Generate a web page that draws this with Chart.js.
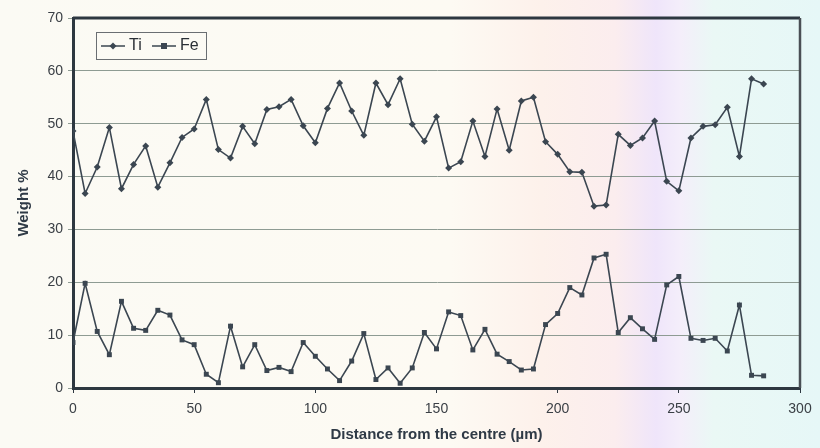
<!DOCTYPE html>
<html>
<head>
<meta charset="utf-8">
<script src="https://cdn.jsdelivr.net/npm/chart.js@4.4.1/dist/chart.umd.min.js"></script>
<style>
  html, body { margin: 0; padding: 0; }
  body {
    width: 820px; height: 448px; overflow: hidden;
    background: linear-gradient(to right, #fbfaf4 0%, #fdfaf3 55%, #fdf1eb 66%, #fbedee 75%, #efe5fa 80%, #f4eefa 83%, #eaf8f5 87%, #e6f7f7 100%);
  }
  #wrap { position: relative; width: 820px; height: 448px; }
</style>
</head>
<body>
<div id="wrap"><canvas id="chart" width="820" height="448"></canvas></div>
<script>
const distances = [0, 5, 10, 15, 20, 25, 30, 35, 40, 45, 50, 55, 60, 65, 70, 75, 80, 85, 90, 95,
  100, 105, 110, 115, 120, 125, 130, 135, 140, 145, 150, 155, 160, 165, 170, 175, 180, 185, 190, 195,
  200, 205, 210, 215, 220, 225, 230, 235, 240, 245, 250, 255, 260, 265, 270, 275, 280, 285];

const tiValues = [48.6, 36.8, 41.8, 49.3, 37.7, 42.3, 45.8, 38.0, 42.6, 47.4,
  49.0, 54.6, 45.1, 43.5, 49.5, 46.2, 52.7, 53.2, 54.6, 49.6,
  46.4, 52.9, 57.7, 52.4, 47.8, 57.7, 53.6, 58.5, 49.9, 46.7,
  51.3, 41.6, 42.8, 50.5, 43.8, 52.8, 45.0, 54.3, 55.0, 46.6,
  44.2, 40.9, 40.8, 34.4, 34.6, 48.0, 45.9, 47.3, 50.5, 39.1,
  37.3, 47.3, 49.5, 49.8, 53.1, 43.8, 58.5, 57.5];

const feValues = [8.6, 19.8, 10.7, 6.3, 16.4, 11.3, 10.9, 14.7, 13.8, 9.1,
  8.2, 2.6, 1.0, 11.7, 4.0, 8.2, 3.3, 3.9, 3.1, 8.6,
  6.0, 3.6, 1.4, 5.1, 10.3, 1.6, 3.8, 0.9, 3.8, 10.5,
  7.4, 14.4, 13.7, 7.2, 11.1, 6.4, 5.0, 3.4, 3.6, 12.0,
  14.1, 19.0, 17.6, 24.6, 25.3, 10.5, 13.3, 11.2, 9.2, 19.5,
  21.1, 9.4, 9.0, 9.4, 7.0, 15.7, 2.4, 2.3];

const seriesLabels = ['Ti', 'Fe'];
const xTitle = 'Distance from the centre (\u00b5m)';
const yTitle = 'Weight %';

const lineColor = '#3b4651';
const font = 'Liberation Sans, Arial, sans-serif';

function toPoints(values) {
    return values.map((v, i) => ({ x: distances[i], y: v }));
}

// frame on top/right of plot area
const frame = {
    id: 'frame',
    afterDraw(chart) {
        const { ctx, chartArea: a } = chart;
        ctx.save();
        ctx.strokeStyle = '#2d3740';
        ctx.lineWidth = 3;
        ctx.beginPath();
        ctx.moveTo(a.left, a.top);
        ctx.lineTo(a.right, a.top);
        ctx.stroke();
        ctx.lineWidth = 2.5;
        ctx.strokeStyle = '#4a4f55';
        ctx.beginPath();
        ctx.moveTo(a.right, a.top);
        ctx.lineTo(a.right, a.bottom);
        ctx.stroke();
        ctx.restore();
    }
};

// boxed legend: line sample with marker, then label
const boxLegend = {
    id: 'boxLegend',
    afterDraw(chart) {
        const ctx = chart.ctx;
        const x0 = 96, y0 = 32, w = 110, h = 27;
        ctx.save();
        ctx.strokeStyle = '#6a6e72';
        ctx.lineWidth = 1;
        ctx.strokeRect(x0 + 0.5, y0 + 0.5, w, h);
        ctx.font = '16px ' + font;
        ctx.textBaseline = 'middle';
        const cy = y0 + h / 2 + 0.5;
        let x = x0 + 5;
        chart.data.datasets.forEach(ds => {
            ctx.strokeStyle = lineColor;
            ctx.lineWidth = 1.5;
            ctx.beginPath();
            ctx.moveTo(x, cy);
            ctx.lineTo(x + 24, cy);
            ctx.stroke();
            ctx.fillStyle = lineColor;
            const mx = x + 12;
            if (ds.pointStyle === 'rectRot') {
                ctx.beginPath();
                ctx.moveTo(mx, cy - 3.5); ctx.lineTo(mx + 3.5, cy);
                ctx.lineTo(mx, cy + 3.5); ctx.lineTo(mx - 3.5, cy);
                ctx.closePath(); ctx.fill();
            } else {
                ctx.fillRect(mx - 3, cy - 3, 6, 6);
            }
            ctx.fillStyle = '#2a2f35';
            ctx.fillText(ds.label, x + 28, cy);
            x += 51;
        });
        ctx.restore();
    }
};

const ctx = document.getElementById('chart').getContext('2d');
new Chart(ctx, {
    type: 'line',
    data: {
        datasets: [{
            label: seriesLabels[0],
            data: toPoints(tiValues),
            borderColor: lineColor,
            backgroundColor: lineColor,
            borderWidth: 1.6,
            pointStyle: 'rectRot',
            pointRadius: 3.5,
            pointBorderWidth: 0,
            tension: 0
        }, {
            label: seriesLabels[1],
            data: toPoints(feValues),
            borderColor: lineColor,
            backgroundColor: lineColor,
            borderWidth: 1.6,
            pointStyle: 'rect',
            pointRadius: 3.5,
            pointBorderWidth: 0,
            tension: 0
        }]
    },
    options: {
        responsive: false,
        animation: false,
        layout: { padding: { top: 18, right: 20, left: 0, bottom: 0 } },
        plugins: {
            legend: { display: false },
            tooltip: { enabled: false }
        },
        scales: {
            x: {
                type: 'linear',
                min: 0,
                max: 300,
                ticks: { stepSize: 50, color: '#3a3f45', font: { family: font, size: 14 }, padding: 8 },
                grid: { drawOnChartArea: false, color: '#2d3740', tickLength: 5 },
                border: { color: '#2d3740', width: 3 },
                title: { display: true, text: xTitle, color: '#2f3a46', font: { family: font, size: 15, weight: 'bold' }, padding: { top: 8 } },
                afterFit(scale) { scale.height = 60; }
            },
            y: {
                min: 0,
                max: 70,
                ticks: { stepSize: 10, color: '#3a3f45', font: { family: font, size: 14 }, padding: 5 },
                grid: { color: '#8e9b93', lineWidth: 1, tickLength: 5 },
                border: { color: '#2d3740', width: 3 },
                title: { display: true, text: yTitle, color: '#2f3a46', font: { family: font, size: 15, weight: 'bold' }, padding: { top: 15, bottom: 2 } },
                afterFit(scale) { scale.width = 73; }
            }
        }
    },
    plugins: [frame, boxLegend]
});
</script>
</body>
</html>
